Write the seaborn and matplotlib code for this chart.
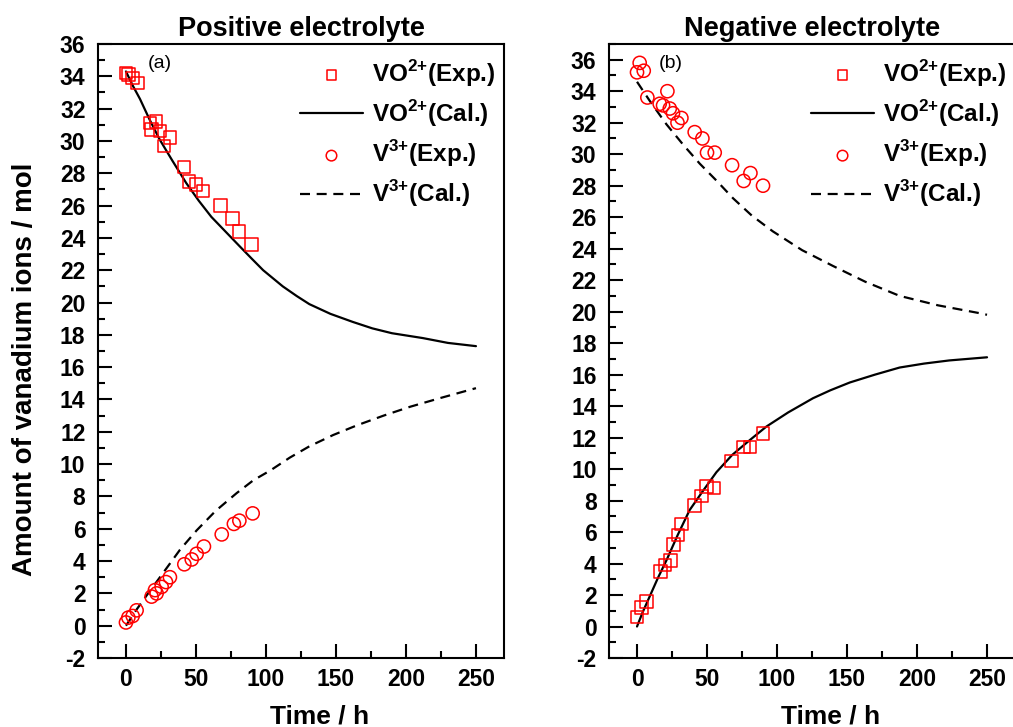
import matplotlib
matplotlib.use("Agg")
import matplotlib.pyplot as plt
import seaborn as sns
from matplotlib.ticker import MultipleLocator

# --- data ---
# (a) positive electrolyte
pos_vo_exp_t = [0, 1.7, 4.8, 8.3, 17, 18.3, 21.4, 24.3, 27, 31.4, 41.4, 45.2, 50, 55.2, 67.6, 76.2, 80.7, 89.8]
pos_vo_exp = [34.2, 34.1, 33.9, 33.6, 31.1, 30.7, 31.2, 30.6, 29.7, 30.2, 28.4, 27.5, 27.3, 26.9, 26.0, 25.2, 24.4, 23.6]
pos_v3_exp_t = [0, 1.7, 4.8, 7.6, 18.3, 20.7, 21.9, 25.5, 28.6, 31.4, 41.7, 47, 50.5, 55.7, 68.4, 77.1, 81, 90.5]
pos_v3_exp = [0.2, 0.5, 0.6, 0.95, 1.8, 2.2, 2.0, 2.4, 2.7, 3.0, 3.8, 4.1, 4.45, 4.9, 5.65, 6.3, 6.5, 6.95]
pos_vo_cal_t = [0, 5, 10, 17, 24, 33, 43, 52, 61, 71, 81, 90, 98, 112, 122, 131, 146, 162, 176, 190, 212, 230, 250]
pos_vo_cal = [34.3, 33.4, 32.6, 31.3, 30.1, 28.8, 27.4, 26.3, 25.3, 24.4, 23.5, 22.7, 22.0, 21.0, 20.4, 19.9,
              19.3, 18.8, 18.4, 18.1, 17.8, 17.5, 17.3]
pos_v3_cal_t = [0, 7.6, 15, 24.3, 38.6, 50.5, 64, 79, 91, 103, 117, 131, 148, 165, 184, 203, 225, 250]
pos_v3_cal = [0, 1.0, 1.9, 3.0, 4.7, 5.9, 7.1, 8.2, 9.0, 9.6, 10.4, 11.1, 11.8, 12.4, 13.0, 13.55, 14.1, 14.7]

# (b) negative electrolyte
neg_vo_exp_t = [0, 3.1, 6.7, 16.9, 19.8, 23.9, 26.2, 29.3, 31.7, 41.2, 46, 49.6, 55, 67.4, 76.2, 80.5, 90]
neg_vo_exp = [0.6, 1.2, 1.6, 3.5, 3.9, 4.2, 5.2, 5.8, 6.5, 7.7, 8.3, 8.9, 8.8, 10.5, 11.4, 11.4, 12.25]
neg_v3_exp_t = [0, 1.9, 4.8, 7.4, 16.2, 18.6, 21.7, 23.4, 25.7, 28.9, 31.7, 41.2, 46.7, 50, 55.5, 67.9, 76.2, 81, 90]
neg_v3_exp = [35.2, 35.8, 35.3, 33.6, 33.2, 33.1, 34.0, 32.9, 32.6, 32.0, 32.3, 31.4, 31.0, 30.1, 30.1, 29.3, 28.3,
              28.8, 28.0]
neg_vo_cal_t = [0, 4, 9, 15, 21, 29, 37.6, 47, 56.7, 68, 80, 92.4, 108, 125.7, 138, 152, 170, 187.6, 205, 223, 250]
neg_vo_cal = [0, 0.9, 1.9, 3.1, 4.2, 5.8, 7.4, 8.6, 9.8, 10.9, 11.8, 12.7, 13.6, 14.5, 15.0, 15.5, 16.0, 16.45,
              16.7, 16.9, 17.1]
neg_v3_cal_t = [0, 9, 21, 33, 44.8, 57, 68.6, 82, 97, 118, 140, 163, 187.6, 215, 244.8, 250]
neg_v3_cal = [34.6, 33.4, 31.9, 30.6, 29.4, 28.3, 27.2, 26.1, 25.1, 23.9, 22.9, 21.9, 21.0, 20.4, 19.9, 19.8]

labels = [r"VO$^{\mathbf{2{+}}}$(Exp.)", r"VO$^{\mathbf{2{+}}}$(Cal.)",
          r"V$^{\mathbf{3{+}}}$(Exp.)", r"V$^{\mathbf{3{+}}}$(Cal.)"]

sns.set_style("ticks")
plt.rcParams["font.family"] = ["Liberation Sans", "DejaVu Sans"]
plt.rcParams["font.weight"] = "bold"
plt.rcParams["mathtext.fontset"] = "custom"
plt.rcParams["mathtext.rm"] = "Liberation Sans:bold"
plt.rcParams["mathtext.bf"] = "Liberation Sans:bold"
plt.rcParams["axes.unicode_minus"] = False
for key in ["text.color", "axes.labelcolor", "xtick.color", "ytick.color", "axes.edgecolor"]:
    plt.rcParams[key] = "black"

fig = plt.figure(figsize=(10.13, 7.27), dpi=100)
ax1 = fig.add_axes([0.0967, 0.0949, 0.4008, 0.8446])
ax2 = fig.add_axes([0.6012, 0.0949, 0.4008, 0.8446])

panels = [
    (ax1, "Positive electrolyte", "(a)", (pos_vo_exp_t, pos_vo_exp), (pos_vo_cal_t, pos_vo_cal),
     (pos_v3_exp_t, pos_v3_exp), (pos_v3_cal_t, pos_v3_cal), 36),
    (ax2, "Negative electrolyte", "(b)", (neg_vo_exp_t, neg_vo_exp), (neg_vo_cal_t, neg_vo_cal),
     (neg_v3_exp_t, neg_v3_exp), (neg_v3_cal_t, neg_v3_cal), 37),
]

for ax, title, tag, vo_exp, vo_cal, v3_exp, v3_cal, ytop in panels:
    sns.scatterplot(x=vo_exp[0], y=vo_exp[1], marker="s", s=80, facecolor="none",
                    edgecolor="red", linewidth=1.1, ax=ax, label=labels[0], zorder=3)
    sns.lineplot(x=vo_cal[0], y=vo_cal[1], color="black", linewidth=1.6, ax=ax,
                 label=labels[1], sort=False, estimator=None)
    sns.scatterplot(x=v3_exp[0], y=v3_exp[1], marker="o", s=90, facecolor="none",
                    edgecolor="red", linewidth=1.1, ax=ax, label=labels[2], zorder=3)
    sns.lineplot(x=v3_cal[0], y=v3_cal[1], color="black", linewidth=1.6, ax=ax,
                 linestyle=(0, (4.5, 3)), label=labels[3], sort=False, estimator=None)

    ax.set_xlim(-20, 270)
    ax.set_ylim(-2, ytop)
    ax.xaxis.set_major_locator(MultipleLocator(50))
    ax.xaxis.set_minor_locator(MultipleLocator(25))
    ax.yaxis.set_major_locator(MultipleLocator(2))
    ax.yaxis.set_minor_locator(MultipleLocator(1))
    ax.tick_params(which="both", direction="in", width=1.5, labelsize=16.5,
                   top=False, right=False)
    ax.tick_params(which="major", length=10)
    ax.tick_params(which="minor", length=5)
    ax.tick_params(axis="x", pad=7)
    ax.tick_params(axis="y", pad=9)
    for sp in ax.spines.values():
        sp.set_linewidth(1.5)
        sp.set_visible(True)
    for lbl in ax.get_xticklabels() + ax.get_yticklabels():
        lbl.set_fontweight("bold")

    ax.set_title(title, fontsize=19.5, fontweight="bold", pad=6)
    ax.set_xlabel("Time / h", fontsize=19, fontweight="bold")
    ax.xaxis.set_label_coords(0.545, -0.075)
    ax.text(0.122, 0.968, tag, transform=ax.transAxes, fontsize=14,
            fontweight="normal", va="center", ha="left")

    leg = ax.legend(loc="upper right", bbox_to_anchor=(1.02, 1.005), frameon=False,
                    fontsize=17.5, handlelength=2.6, handletextpad=0.35,
                    labelspacing=0.38, markerscale=0.8, borderaxespad=0.3)
    for t in leg.get_texts():
        t.set_fontweight("bold")

ax1.set_ylabel("Amount of vanadium ions / mol", fontsize=20, fontweight="bold")
ax1.yaxis.set_label_coords(-0.148, 0.47)
ax2.set_ylabel("")

fig.savefig("out.png", dpi=100)
